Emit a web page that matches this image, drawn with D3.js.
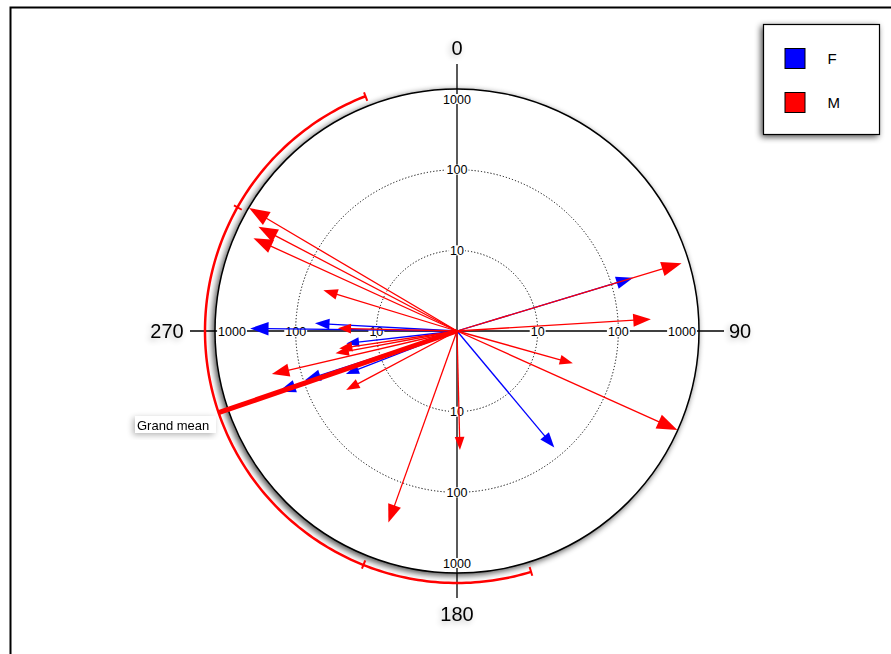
<!DOCTYPE html>
<html>
<head>
<meta charset="utf-8">
<script src="https://cdn.jsdelivr.net/npm/d3@7"></script>
<style>
  html, body { margin: 0; padding: 0; background: #fff; }
  svg { display: block; font-family: "Liberation Sans", Arial, sans-serif; }
</style>
</head>
<body>
<svg id="chart" width="891" height="654"></svg>
<script>
// Group names and colours
const groups = ["F", "M"];
const groupColors = ["#0000ff", "#ff0000"];

// F observations: compass bearing (deg) and magnitude (log radial axis)
const fAngles = [270.7, 273.1, 263.6, 248.8, 252.1, 251.2, 73.2, 140.1];
const fValues = [367, 58, 24, 30, 95, 218, 191, 76];

// M observations
const mAngles = [73.2, 86.5, 105.6, 114.2, 178.6, 199.7, 256.9, 242.0, 259.6, 261.5, 271.3, 300.6, 297.7, 294.5, 287.0];
const mValues = [809, 256, 31, 990, 30, 333, 227, 36, 34, 30, 30, 985, 604, 593, 54];

// Grand mean direction with its two confidence arcs (deg)
const grandMean = 251.1;
const innerCI = [201.8, 299.4];
const outerCI = [162.9, 338.7];

// Radial rings and compass labels
const ringTicks = [10, 100, 1000];
const compassLabels = [0, 90, 180, 270];

const svg = d3.select("#chart");
const cx = 457, cy = 331;
const R = 242;
const arcR = 252;

const r = d3.scaleLog().domain([1, 1000]).range([0, R]);
const rad = d => d * Math.PI / 180;
const px = (a, rr) => cx + rr * Math.sin(rad(a));
const py = (a, rr) => cy - rr * Math.cos(rad(a));

const defs = svg.append("defs");
function makeShadow(id, std, dx, dy, alpha) {
  const f = defs.append("filter").attr("id", id)
    .attr("x", "-40%").attr("y", "-40%").attr("width", "180%").attr("height", "180%");
  f.append("feGaussianBlur").attr("in", "SourceAlpha").attr("stdDeviation", std).attr("result", "b");
  f.append("feOffset").attr("in", "b").attr("dx", dx).attr("dy", dy).attr("result", "o");
  f.append("feComponentTransfer").attr("in", "o").attr("result", "s")
    .append("feFuncA").attr("type", "linear").attr("slope", alpha);
  const m = f.append("feMerge");
  m.append("feMergeNode").attr("in", "s");
  m.append("feMergeNode").attr("in", "SourceGraphic");
}
makeShadow("soft", 3, -2, 2, 0.7);
makeShadow("tsoft", 3, -2, 2, 0.3);

// Outer frame
svg.append("rect").attr("x", 10.5).attr("y", 7.5).attr("width", 900).attr("height", 700)
  .attr("fill", "none").attr("stroke", "#000").attr("stroke-width", 2);

// Plot disc
svg.append("circle").attr("cx", cx).attr("cy", cy).attr("r", R)
  .attr("fill", "#fff").attr("stroke", "#000").attr("stroke-width", 1.5)
  .attr("filter", "url(#soft)");

// Dotted inner rings
svg.selectAll("circle.ring").data(ringTicks.filter(t => t < 1000)).join("circle")
  .attr("class", "ring").attr("cx", cx).attr("cy", cy).attr("r", d => r(d))
  .attr("fill", "none").attr("stroke", "#000").attr("stroke-width", 1)
  .attr("stroke-dasharray", "1.2,2");

// Cross axes
const axLen = 267;
compassLabels.forEach(a => {
  svg.append("line")
    .attr("x1", cx).attr("y1", cy)
    .attr("x2", px(a, axLen)).attr("y2", py(a, axLen))
    .attr("stroke", "#000").attr("stroke-width", 1.3);
});

// Ring labels on each axis, on a white backing
const ringLabelG = svg.append("g").attr("font-size", 12.5);
compassLabels.forEach(a => {
  ringTicks.forEach(t => {
    const horiz = (a === 90 || a === 270);
    let rr = r(t);
    if (t === 1000) rr -= horiz ? 17 : 10;
    const tx = px(a, rr), ty = py(a, rr);
    const g = ringLabelG.append("g");
    const txt = g.append("text")
      .attr("x", tx).attr("y", ty).attr("dy", "0.36em")
      .attr("text-anchor", "middle").attr("fill", "#000")
      .text(t);
    const bb = txt.node().getBBox();
    g.insert("rect", "text")
      .attr("x", bb.x - 1).attr("y", ty - 5).attr("width", bb.width + 2).attr("height", 10)
      .attr("fill", "#fff");
  });
});

// Compass labels
const compassG = svg.append("g").attr("font-size", 20).attr("filter", "url(#tsoft)");
compassLabels.forEach(a => {
  const horiz = (a === 90 || a === 270);
  const rr = horiz ? 283 + (a === 270 ? 7 : 0) : 283;
  compassG.append("text")
    .attr("x", px(a, rr)).attr("y", py(a, rr)).attr("dy", "0.36em")
    .attr("text-anchor", "middle").text(a);
});

// Arrows
const arrowG = svg.append("g");
function drawArrows(angles, values, color) {
  const data = angles.map((a, i) => ({ a, v: values[i] }));
  const g = arrowG.append("g");
  data.forEach(d => {
    const L = r(d.v);
    const h = 6 + 0.06 * L;
    const w = 0.37 * h;
    const base = L - h;
    g.append("line")
      .attr("x1", cx).attr("y1", cy)
      .attr("x2", px(d.a, base + 1)).attr("y2", py(d.a, base + 1))
      .attr("stroke", color).attr("stroke-width", 1.3);
    const bx = px(d.a, base), by = py(d.a, base);
    const nx = Math.cos(rad(d.a)), ny = Math.sin(rad(d.a));
    const pts = [
      [px(d.a, L), py(d.a, L)],
      [bx + w * nx, by + w * ny],
      [bx - w * nx, by - w * ny]
    ];
    g.append("polygon").attr("points", pts.map(p => p.join(",")).join(" "))
      .attr("fill", color);
  });
}
drawArrows(fAngles, fValues, groupColors[0]);
drawArrows(mAngles, mValues, groupColors[1]);

// Confidence arc for the grand mean
const arcPts = d3.range(outerCI[0], outerCI[1] + 0.01, 1).concat([outerCI[1]])
  .map(a => [px(a, arcR), py(a, arcR)]);
svg.append("path").attr("d", d3.line()(arcPts))
  .attr("fill", "none").attr("stroke", "#ff0000").attr("stroke-width", 2.5);
[...innerCI, ...outerCI].forEach(a => {
  svg.append("line")
    .attr("x1", px(a, arcR - 5)).attr("y1", py(a, arcR - 5))
    .attr("x2", px(a, arcR + 4)).attr("y2", py(a, arcR + 4))
    .attr("stroke", "#ff0000").attr("stroke-width", 2);
});

// Grand mean vector
svg.append("line")
  .attr("x1", cx).attr("y1", cy)
  .attr("x2", px(grandMean, arcR)).attr("y2", py(grandMean, arcR))
  .attr("stroke", "#ff0000").attr("stroke-width", 5);

// Grand mean label
const gmG = svg.append("g").attr("filter", "url(#tsoft)");
gmG.append("rect").attr("x", 135).attr("y", 416).attr("width", 81).attr("height", 17).attr("fill", "#fff");
gmG.append("text").attr("x", 137).attr("y", 425).attr("dy", "0.36em")
  .attr("font-size", 13).text("Grand mean");

// Legend
const lg = svg.append("g").attr("transform", "translate(763.5,24.5)");
lg.append("rect").attr("width", 116).attr("height", 110)
  .attr("fill", "#fff").attr("stroke", "#000").attr("stroke-width", 1.2)
  .attr("filter", "url(#soft)");
groups.forEach((gname, i) => {
  const y = 24 + i * 44;
  lg.append("rect").attr("x", 21.5).attr("y", y).attr("width", 20).attr("height", 20)
    .attr("fill", groupColors[i]).attr("stroke", "#000").attr("stroke-width", 1);
  lg.append("text").attr("x", 64).attr("y", y + 10).attr("dy", "0.36em")
    .attr("font-size", 15).text(gname);
});
</script>
</body>
</html>
